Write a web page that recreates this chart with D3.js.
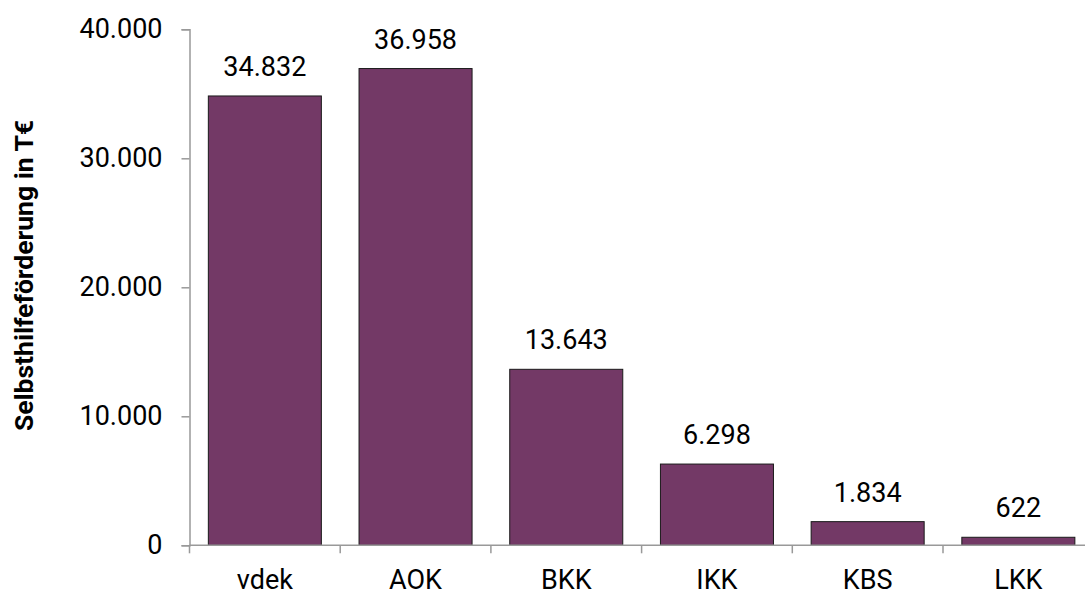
<!DOCTYPE html>
<html><head><meta charset="utf-8">
<script src="https://cdn.jsdelivr.net/npm/d3@7"></script>
<style>body{margin:0;background:#fff;} text{font-family:Roboto, "Liberation Sans", sans-serif;}</style>
</head><body>
<svg id="c" width="1085" height="595"></svg>
<script>
const categories = ["vdek","AOK","BKK","IKK","KBS","LKK"];
const values = [34832, 36958, 13643, 6298, 1834, 622];
const yTicks = [0, 10000, 20000, 30000, 40000];
const yTitle = "Selbsthilfeförderung in T€";

(function(){
const svg = d3.select("#c");
const left = 189.5, bandW = 150.7, plotTop = 29.3, plotBottom = 545.3;
const fs = 27;
const x = d3.scaleBand().domain(categories).range([left, left + bandW*categories.length]).paddingInner(0.25).paddingOuter(0.125);
const y = d3.scaleLinear().domain([0, 40000]).range([plotBottom, plotTop]);
const fmt = v => d3.format(",")(v).replace(/,/g, ".");

// bars
svg.selectAll("rect.bar").data(values).join("rect")
  .attr("class","bar")
  .attr("x",(d,i)=>x(categories[i]))
  .attr("y",d=>y(d))
  .attr("width",x.bandwidth())
  .attr("height",d=>y(0)-y(d))
  .attr("fill","#733966")
  .attr("stroke","#1a1a1a")
  .attr("stroke-width",1);

// value labels
svg.selectAll("text.val").data(values).join("text")
  .attr("class","val")
  .attr("x",(d,i)=>x(categories[i])+x.bandwidth()/2)
  .attr("y",d=>y(d)-20)
  .attr("text-anchor","middle")
  .attr("font-size",fs)
  .attr("fill","#000")
  .text(d=>fmt(d));

// y axis
const yAxis = d3.axisLeft(y).tickValues(yTicks).tickFormat(fmt).tickSizeOuter(0).tickSize(8).tickPadding(19);
const gy = svg.append("g").attr("transform",`translate(${left},0)`).call(yAxis);
gy.select(".domain").attr("stroke","#999").attr("stroke-width",1.5);
gy.selectAll(".tick line").attr("stroke","#999").attr("stroke-width",1.5);
gy.selectAll(".tick text").attr("font-size",fs).attr("fill","#000").attr("font-family","Roboto");

// x axis
const xAxis = d3.axisBottom(x).tickSize(0).tickPadding(25).tickSizeOuter(0);
const gx = svg.append("g").attr("transform",`translate(0,${plotBottom})`).call(xAxis);
gx.select(".domain").attr("stroke","#999").attr("stroke-width",1.5).attr("d",`M${left},0H1085`);
gx.selectAll(".tick text").attr("font-size",fs).attr("fill","#000").attr("font-family","Roboto");
// category boundary ticks
const bounds = d3.range(categories.length+1).map(i => left + i*bandW);
gx.selectAll("line.bnd").data(bounds).join("line")
  .attr("class","bnd")
  .attr("x1",d=>d).attr("x2",d=>d)
  .attr("y1",0).attr("y2",8)
  .attr("stroke","#999").attr("stroke-width",1.5);

// y title
svg.append("text")
  .attr("transform","translate(32.5,275.5) rotate(-90)")
  .attr("text-anchor","middle")
  .attr("font-size",26.5)
  .attr("font-weight","bold")
  .attr("fill","#000")
  .text(yTitle);
})();
</script>
</body></html>
